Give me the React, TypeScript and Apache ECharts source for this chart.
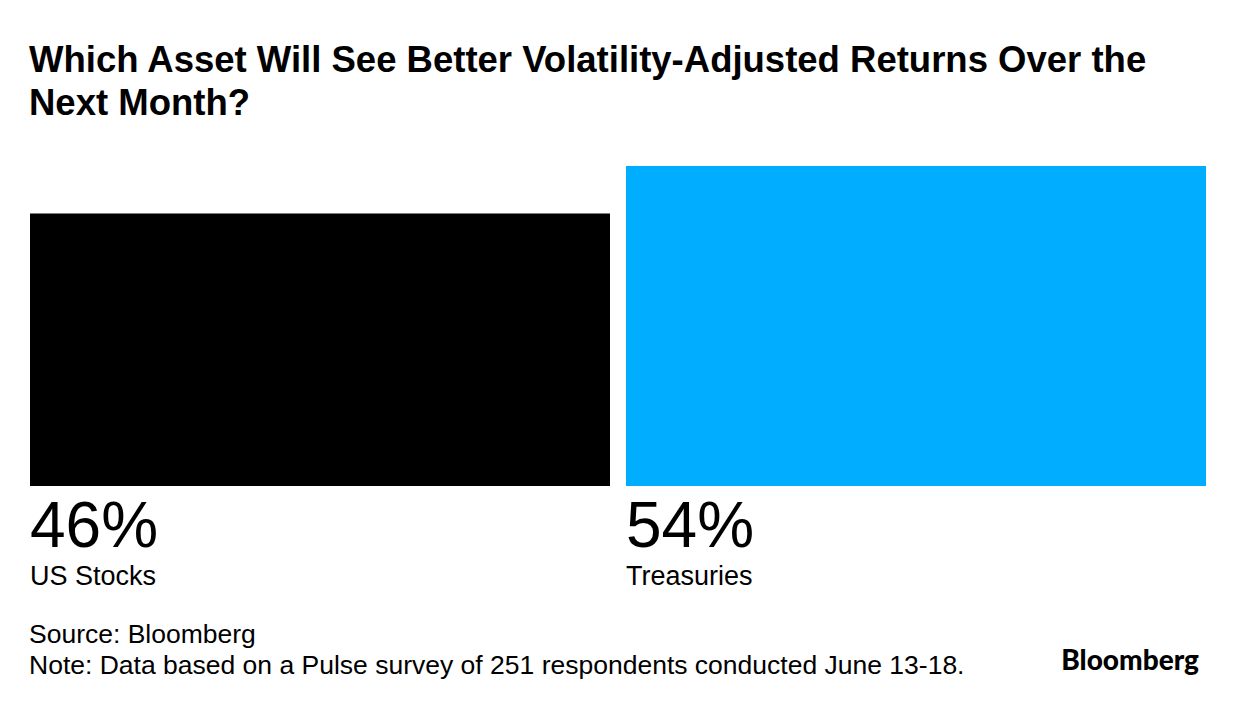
import React, { useEffect, useRef } from "react";
import * as echarts from "echarts";

const categories = ["US Stocks", "Treasuries"];
const shares = [46, 54];
const barColors = ["#000000", "#00adff"];
const titleText = "Which Asset Will See Better Volatility-Adjusted Returns Over the\nNext Month?";
const footerLines = [
  "Source: Bloomberg",
  "Note: Data based on a Pulse survey of 251 respondents conducted June 13-18.",
];
const logoText = "Bloomberg";

const FONT = "'Liberation Sans', Arial, Helvetica, sans-serif";

export default function App() {
  const ref = useRef<HTMLDivElement>(null);
  useEffect(() => {
    if (!ref.current) return;
    const chart = echarts.init(ref.current, null, { renderer: "svg" });
    chart.setOption({
      animation: false,
      backgroundColor: "#ffffff",
      title: {
        text: titleText,
        left: 29,
        top: 38,
        padding: 0,
        textStyle: {
          fontFamily: FONT,
          fontWeight: "bold",
          fontSize: 36.5,
          lineHeight: 43,
          color: "#000000",
        },
      },
      grid: { left: 22, right: 26, top: 166, bottom: 218 },
      xAxis: {
        type: "category",
        data: categories,
        show: false,
      },
      yAxis: {
        type: "value",
        min: 0,
        max: Math.max(...shares),
        show: false,
      },
      series: [
        {
          type: "bar",
          barWidth: 580,
          data: shares.map((v, i) => ({ value: v, itemStyle: { color: barColors[i] } })),
          label: {
            show: true,
            position: [0, "100%"],
            offset: [0, 7],
            align: "left",
            verticalAlign: "top",
            formatter: (p: any) => `{v|${p.value}%}\n{n|${p.name}}`,
            rich: {
              v: { fontFamily: FONT, fontSize: 64, lineHeight: 64, color: "#000000" },
              n: { fontFamily: FONT, fontSize: 27, lineHeight: 38, color: "#000000" },
            },
          },
        },
      ],
      graphic: [
        {
          type: "text",
          left: 29,
          top: 618,
          style: {
            text: footerLines.join("\n"),
            font: `26.5px ${FONT}`,
            lineHeight: 31,
            fill: "#000000",
          },
        },
        {
          type: "text",
          right: 41,
          top: 645,
          style: { text: logoText, font: `900 28px Lato, 'Noto Sans', sans-serif`, fill: "#000000" },
        },
      ],
    });
    return () => chart.dispose();
  }, []);
  return (
    <div
      ref={ref}
      style={{ position: "fixed", left: 0, top: 0, width: 1240, height: 704, background: "#fff" }}
    />
  );
}
